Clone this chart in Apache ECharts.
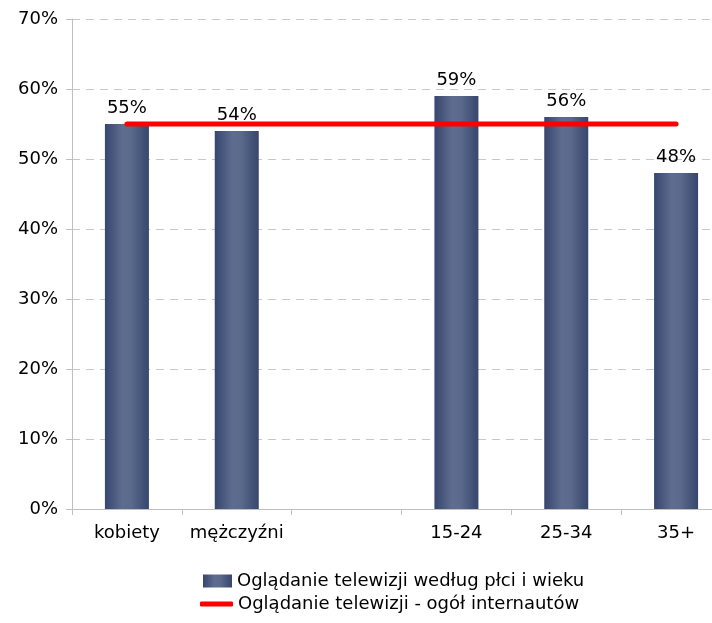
<!DOCTYPE html>
<html><head><meta charset="utf-8">
<script src="https://cdn.jsdelivr.net/npm/echarts@6/dist/echarts.min.js"></script>
<style>html,body{margin:0;padding:0;background:#fff;overflow:hidden;width:712px;height:623px}#c{width:760px;height:623px}</style>
</head><body><div id="c"></div>
<script>
const categories = ['kobiety', 'mężczyźni', '', '15-24', '25-34', '35+'];
const barValues = [55, 54, null, 59, 56, 48];
const lineValues = [55, 55, 55, 55, 55, 55];
const barName = 'Oglądanie telewizji według płci i wieku';
const lineName = 'Oglądanie telewizji - ogół internautów';
const yTicks = [0, 10, 20, 30, 40, 50, 60, 70];

const font = 'DejaVu Sans';
const fs = 18;
const barGrad = new echarts.graphic.LinearGradient(0, 0, 1, 0, [
  {offset: 0, color: '#36466d'},
  {offset: 0.4, color: '#5e6d8f'},
  {offset: 0.6, color: '#5a6a8b'},
  {offset: 1, color: '#36466d'}
]);
const chart = echarts.init(document.getElementById('c'), null, {renderer: 'canvas'});
chart.setOption({
  animation: false,
  backgroundColor: '#fff',
  textStyle: {fontFamily: font},
  grid: {left: 72, top: 19, width: 659, height: 490, containLabel: false},
  xAxis: {
    type: 'category', data: categories,
    axisLine: {lineStyle: {color: '#bfbfbf', width: 1}},
    axisTick: {show: true, interval: 0, length: 6, lineStyle: {color: '#bfbfbf'}},
    axisLabel: {interval: 0, color: '#000', fontSize: fs, fontFamily: font, margin: 15}
  },
  yAxis: {
    type: 'value', min: yTicks[0], max: yTicks[yTicks.length - 1], interval: 10,
    axisLine: {show: true, lineStyle: {color: '#bfbfbf'}},
    axisTick: {show: true, length: 6, lineStyle: {color: '#bfbfbf'}},
    axisLabel: {color: '#000', fontSize: fs, fontFamily: font, margin: 14, formatter: v => v + '%'},
    splitLine: {lineStyle: {color: '#c8c8c8', type: [8, 6]}}
  },
  legend: [
    {
      orient: 'vertical', left: 203, top: 572, padding: 0, itemWidth: 29, itemHeight: 13,
      textStyle: {color: '#000', fontSize: fs, fontFamily: font},
      data: [{name: barName, icon: 'rect'}]
    },
    {
      orient: 'vertical', left: 200, top: 595, padding: 0, itemWidth: 33, itemHeight: 5,
      textStyle: {color: '#000', fontSize: fs, fontFamily: font},
      data: [{name: lineName, icon: 'roundRect', itemStyle: {color: '#ff0000'}}]
    }
  ],
  series: [
    {
      name: barName, type: 'bar', data: barValues, barWidth: 44,
      itemStyle: {color: barGrad},
      label: {show: true, position: 'top', distance: 7, color: '#000', fontSize: fs, fontFamily: font, formatter: p => p.value + '%'}
    },
    {
      name: lineName, type: 'line', data: lineValues, symbol: 'none', showSymbol: false,
      lineStyle: {color: '#ff0000', width: 5, cap: 'round'},
      itemStyle: {color: '#ff0000'}, z: 5
    }
  ]
});
</script></body></html>
